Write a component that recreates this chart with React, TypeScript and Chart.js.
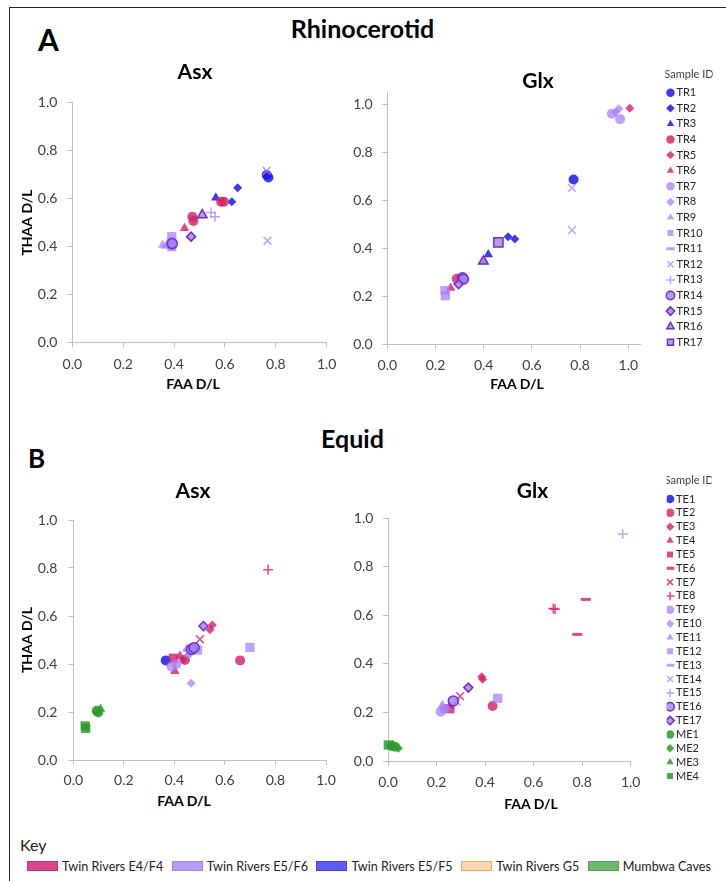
import React, { useEffect, useRef } from 'react';
import { Chart, registerables } from 'chart.js';

Chart.register(...registerables);

const FONT = 'Lato, "Open Sans", sans-serif';

// ---------------- Sample IDs ----------------
const rhinoIds = ['TR1', 'TR2', 'TR3', 'TR4', 'TR5', 'TR6', 'TR7', 'TR8', 'TR9', 'TR10', 'TR11', 'TR12', 'TR13', 'TR14', 'TR15', 'TR16', 'TR17'];
const equidIds = ['TE1', 'TE2', 'TE3', 'TE4', 'TE5', 'TE6', 'TE7', 'TE8', 'TE9', 'TE10', 'TE11', 'TE12', 'TE13', 'TE14', 'TE15', 'TE16', 'TE17', 'ME1', 'ME2', 'ME3', 'ME4'];

// ---------------- A: Rhinocerotid, Asx ----------------
const rhinoAsxSample = ['TR1', 'TR1', 'TR2', 'TR2', 'TR3', 'TR4', 'TR4', 'TR4', 'TR4', 'TR6', 'TR7', 'TR7', 'TR9', 'TR9', 'TR10', 'TR10', 'TR12', 'TR12', 'TR13', 'TR13', 'TR14', 'TR15', 'TR16'];
const rhinoAsxFAA = [0.764, 0.771, 0.650, 0.627, 0.564, 0.585, 0.596, 0.472, 0.476, 0.441, 0.388, 0.388, 0.355, 0.368, 0.391, 0.391, 0.764, 0.767, 0.545, 0.561, 0.393, 0.467, 0.511];
const rhinoAsxTHAA = [0.698, 0.688, 0.645, 0.587, 0.603, 0.587, 0.587, 0.524, 0.506, 0.476, 0.420, 0.405, 0.406, 0.402, 0.441, 0.399, 0.716, 0.424, 0.542, 0.524, 0.412, 0.441, 0.531];

// ---------------- A: Rhinocerotid, Glx ----------------
const rhinoGlxSample = ['TR1', 'TR2', 'TR2', 'TR3', 'TR4', 'TR5', 'TR6', 'TR7', 'TR7', 'TR8', 'TR8', 'TR9', 'TR10', 'TR10', 'TR12', 'TR12', 'TR14', 'TR14', 'TR15', 'TR16', 'TR17'];
const rhinoGlxFAA = [0.773, 0.501, 0.529, 0.419, 0.288, 1.006, 0.263, 0.932, 0.966, 0.961, 0.948, 0.396, 0.239, 0.241, 0.766, 0.766, 0.312, 0.316, 0.296, 0.399, 0.461];
const rhinoGlxTHAA = [0.686, 0.447, 0.438, 0.373, 0.272, 0.983, 0.234, 0.961, 0.938, 0.981, 0.968, 0.344, 0.223, 0.201, 0.651, 0.475, 0.276, 0.270, 0.250, 0.345, 0.424];

// ---------------- B: Equid, Asx ----------------
const equidAsxSample = ['TE1', 'TE2', 'TE2', 'TE3', 'TE3', 'TE3', 'TE4', 'TE4', 'TE5', 'TE7', 'TE8', 'TE9', 'TE9', 'TE10', 'TE10', 'TE11', 'TE12', 'TE12', 'TE14', 'TE16', 'TE16', 'TE17', 'ME1', 'ME1', 'ME2', 'ME3', 'ME4', 'ME4'];
const equidAsxFAA = [0.366, 0.660, 0.442, 0.550, 0.541, 0.435, 0.422, 0.402, 0.396, 0.501, 0.771, 0.389, 0.409, 0.466, 0.455, 0.449, 0.699, 0.492, 0.452, 0.468, 0.478, 0.515, 0.093, 0.099, 0.090, 0.108, 0.049, 0.047];
const equidAsxTHAA = [0.415, 0.415, 0.417, 0.563, 0.543, 0.420, 0.433, 0.370, 0.424, 0.503, 0.793, 0.389, 0.400, 0.320, 0.437, 0.462, 0.469, 0.458, 0.446, 0.461, 0.468, 0.558, 0.205, 0.198, 0.200, 0.212, 0.132, 0.142];

// ---------------- B: Equid, Glx ----------------
const equidGlxSample = ['TE2', 'TE3', 'TE3', 'TE4', 'TE5', 'TE6', 'TE6', 'TE7', 'TE8', 'TE8', 'TE9', 'TE9', 'TE10', 'TE11', 'TE12', 'TE14', 'TE15', 'TE16', 'TE17', 'ME1', 'ME1', 'ME2', 'ME3', 'ME4'];
const equidGlxFAA = [0.431, 0.386, 0.390, 0.255, 0.255, 0.815, 0.780, 0.297, 0.681, 0.688, 0.217, 0.232, 0.242, 0.224, 0.452, 0.283, 0.967, 0.269, 0.331, 0.015, 0.029, 0.043, 0.020, 0.001];
const equidGlxTHAA = [0.226, 0.347, 0.336, 0.226, 0.215, 0.665, 0.521, 0.267, 0.628, 0.624, 0.203, 0.215, 0.217, 0.229, 0.258, 0.244, 0.934, 0.247, 0.302, 0.062, 0.059, 0.052, 0.066, 0.066];

// ---------------- Key ----------------
const keyLabels = ['Twin Rivers E4/F4', 'Twin Rivers E5/F6', 'Twin Rivers E5/F5', 'Twin Rivers G5', 'Mumbwa Caves'];
const keyFill = ['#D9468A', '#B89CF6', '#5C5CF6', '#FDD6B2', '#6DBA6D'];
const keyBorder = ['#C2327A', '#A284EE', '#4444E6', '#EFA464', '#52A652'];

// ---------------- Marker styles ----------------
const sampleGroup: Record<string, string> = {
  TR1: 'F5', TR2: 'F5', TR3: 'F5', TR4: 'F4', TR5: 'F4', TR6: 'F4',
  TR7: 'F6', TR8: 'F6', TR9: 'F6', TR10: 'F6', TR11: 'F6', TR12: 'F6', TR13: 'F6',
  TR14: 'F6o', TR15: 'F6o', TR16: 'F6o', TR17: 'F6o',
  TE1: 'F5', TE2: 'F4', TE3: 'F4', TE4: 'F4', TE5: 'F4', TE6: 'F4', TE7: 'F4', TE8: 'F4',
  TE9: 'F6', TE10: 'F6', TE11: 'F6', TE12: 'F6', TE13: 'F6', TE14: 'F6', TE15: 'F6',
  TE16: 'F6o', TE17: 'F6o', ME1: 'MC', ME2: 'MC', ME3: 'MC', ME4: 'MC',
};
const sampleShape: Record<string, string> = {
  TR1: 'circle', TR2: 'rectRot', TR3: 'triangle', TR4: 'circle', TR5: 'rectRot', TR6: 'triangle',
  TR7: 'circle', TR8: 'rectRot', TR9: 'triangle', TR10: 'rect', TR11: 'line', TR12: 'crossRot', TR13: 'cross',
  TR14: 'circle', TR15: 'rectRot', TR16: 'triangle', TR17: 'rect',
  TE1: 'circle', TE2: 'circle', TE3: 'rectRot', TE4: 'triangle', TE5: 'rect', TE6: 'line', TE7: 'crossRot', TE8: 'cross',
  TE9: 'circle', TE10: 'rectRot', TE11: 'triangle', TE12: 'rect', TE13: 'line', TE14: 'crossRot', TE15: 'cross',
  TE16: 'circle', TE17: 'rectRot', ME1: 'circle', ME2: 'rectRot', ME3: 'triangle', ME4: 'rect',
};
const groupColor: Record<string, string> = {
  F5: 'rgba(25,25,235,0.85)',
  F4: 'rgba(212,30,102,0.8)',
  F6: 'rgba(165,125,250,0.72)',
  F6o: 'rgba(165,125,250,0.78)',
  MC: 'rgba(45,155,45,0.85)',
};
const outlineColor = 'rgb(112,48,200)';
const shapeRadius: Record<string, number> = { circle: 5, rectRot: 4.5, triangle: 5.5, rect: 6.5, line: 5, crossRot: 5.5, cross: 5 };

function buildDatasets(ids: string[], sample: string[], faa: number[], thaa: number[]) {
  return ids.map((id, i) => {
    const g = sampleGroup[id];
    const sh = sampleShape[id];
    const c = groupColor[g];
    const outline = g === 'F6o';
    const strokeOnly = sh === 'line' || sh === 'cross' || sh === 'crossRot';
    const bw = outline ? 1.5 : sh === 'line' ? 3 : strokeOnly ? 1.5 : 0;
    const data: { x: number; y: number }[] = [];
    sample.forEach((s, k) => {
      if (s === id) data.push({ x: faa[k], y: thaa[k] });
    });
    return {
      label: id,
      data,
      showLine: false,
      clip: false as any,
      order: ids.length - i,
      pointStyle: sh,
      pointRadius: shapeRadius[sh],
      pointHoverRadius: shapeRadius[sh],
      backgroundColor: c,
      pointBackgroundColor: c,
      borderColor: outline ? outlineColor : c,
      pointBorderColor: outline ? outlineColor : c,
      borderWidth: bw,
      pointBorderWidth: bw,
    };
  });
}

type PanelOpts = {
  ids: string[];
  sample: string[];
  faa: number[];
  thaa: number[];
  title: string;
  titlePad: [number, number];
  max: number;
  canvasLeft: number;
  canvasW: number;
  areaLeft: number;
  areaRight: number;
  xH: number;
  yTickPad: number;
  xTickPad: number;
  yTitlePad?: number;
  legend?: { s1: number; pad: number; titlePad: [number, number] };
};

function axisCommon(max: number, pad: number) {
  return {
    type: 'linear' as const,
    min: 0,
    max,
    ticks: {
      stepSize: 0.2,
      includeBounds: false,
      padding: pad,
      color: '#404040',
      font: { family: FONT, size: 14 },
      maxRotation: 0,
      autoSkip: false,
      callback: (v: any) => Number(v).toFixed(1),
    },
    grid: { display: true, drawOnChartArea: false, drawTicks: true, tickLength: 5, color: '#BFBFBF', lineWidth: 1 },
    border: { display: true, color: '#BFBFBF', width: 1 },
  };
}

function makeConfig(o: PanelOpts): any {
  const yW = o.areaLeft - o.canvasLeft;
  const areaRightRel = o.areaRight - o.canvasLeft;
  const scales: any = {
    x: { ...axisCommon(o.max, o.xTickPad), position: 'bottom', afterFit: (s: any) => { s.height = o.xH; } },
    y: {
      ...axisCommon(o.max, o.yTickPad),
      position: 'left',
      afterFit: (s: any) => { s.width = yW; },
      title: o.yTitlePad !== undefined
        ? { display: true, text: 'THAA D/L', color: '#000', font: { family: FONT, size: 14, weight: 'bold' }, padding: { top: o.yTitlePad, bottom: 0 } }
        : { display: false },
    },
  };
  if (o.legend) {
    const lg = o.legend;
    scales.spR1 = { type: 'linear', position: 'right', display: false, weight: 0, afterFit: (s: any) => { s.width = lg.s1; } };
    scales.spR2 = {
      type: 'linear', position: 'right', display: false, weight: 3000,
      afterFit: (s: any) => {
        const lw = s.chart.legend ? s.chart.legend.width : 0;
        s.width = Math.max(0, o.canvasW - areaRightRel - lg.s1 - lw);
      },
    };
  } else {
    scales.spR1 = { type: 'linear', position: 'right', display: false, afterFit: (s: any) => { s.width = o.canvasW - areaRightRel; } };
  }
  return {
    type: 'scatter',
    data: { datasets: buildDatasets(o.ids, o.sample, o.faa, o.thaa) },
    options: {
      responsive: false,
      maintainAspectRatio: false,
      devicePixelRatio: 1,
      animation: false,
      events: [],
      layout: { padding: 0 },
      scales,
      plugins: {
        tooltip: { enabled: false },
        title: {
          display: true,
          text: o.title,
          color: '#000',
          font: { family: FONT, size: 21, weight: 'bold', lineHeight: 1 },
          padding: { top: o.titlePad[0], bottom: o.titlePad[1] },
        },
        legend: o.legend
          ? {
              display: true,
              position: 'right',
              align: 'start',
              fullSize: true,
              title: {
                display: true,
                text: 'Sample ID',
                color: '#404040',
                font: { family: FONT, size: 11 },
                padding: { top: o.legend.titlePad[0], bottom: o.legend.titlePad[1] },
              },
              labels: {
                usePointStyle: true,
                boxWidth: 1,
                boxHeight: 6,
                padding: o.legend.pad,
                color: '#262626',
                font: { family: FONT, size: 11 },
                sort: (a: any, b: any) => a.datasetIndex - b.datasetIndex,
              },
            }
          : { display: false },
      },
    },
  };
}

function ChartCanvas(props: { left: number; top: number; width: number; height: number; opts: PanelOpts }) {
  const ref = useRef<HTMLCanvasElement>(null);
  useEffect(() => {
    if (!ref.current) return;
    const chart = new Chart(ref.current, makeConfig(props.opts));
    return () => chart.destroy();
  }, []);
  return (
    <canvas
      ref={ref}
      width={props.width}
      height={props.height}
      style={{ position: 'absolute', left: props.left, top: props.top, width: props.width, height: props.height }}
    />
  );
}

function Txt(p: { x: number; cy: number; size: number; bold?: boolean; center?: boolean; children: React.ReactNode; color?: string }) {
  return (
    <div
      style={{
        position: 'absolute',
        left: p.x,
        top: p.cy - p.size / 2,
        fontFamily: FONT,
        fontSize: p.size,
        lineHeight: `${p.size}px`,
        fontWeight: p.bold ? 700 : 400,
        whiteSpace: 'nowrap',
        color: p.color || '#000',
        transform: p.center ? 'translateX(-50%)' : undefined,
      }}
    >
      {p.children}
    </div>
  );
}

export default function App() {
  return (
    <div style={{ position: 'absolute', left: 0, top: 0, width: 726, height: 881, overflow: 'hidden', background: '#fff' }}>
      <div style={{ position: 'absolute', left: 9, top: 7, width: 760, height: 920, borderLeft: '1.5px solid #222', borderTop: '1.5px solid #222' }} />

      <Txt x={38} cy={39} size={30} bold>A</Txt>
      <Txt x={362.5} cy={28.5} size={25} bold center>Rhinocerotid</Txt>
      <Txt x={28} cy={457.5} size={26} bold>B</Txt>
      <Txt x={352.5} cy={438.5} size={25} bold center>Equid</Txt>

      <ChartCanvas
        left={10} top={50} width={370} height={323}
        opts={{
          ids: rhinoIds, sample: rhinoAsxSample, faa: rhinoAsxFAA, thaa: rhinoAsxTHAA,
          title: 'Asx', titlePad: [11.5, 20.2], max: 1,
          canvasLeft: 10, canvasW: 370, areaLeft: 72.3, areaRight: 326.7, xH: 30.7,
          yTickPad: 10, xTickPad: 8.3, yTitlePad: 9.1,
        }}
      />
      <ChartCanvas
        left={350} top={50} width={376} height={324}
        opts={{
          ids: rhinoIds, sample: rhinoGlxSample, faa: rhinoGlxFAA, thaa: rhinoGlxTHAA,
          title: 'Glx', titlePad: [20.5, 0.8], max: 1.05,
          canvasLeft: 350, canvasW: 376, areaLeft: 387.3, areaRight: 640.35, xH: 30,
          yTickPad: 9.6, xTickPad: 7.6,
          legend: { s1: 25, pad: 4.6, titlePad: [18.5, 0.9] },
        }}
      />
      <ChartCanvas
        left={10} top={460} width={366} height={330}
        opts={{
          ids: equidIds, sample: equidAsxSample, faa: equidAsxFAA, thaa: equidAsxTHAA,
          title: 'Asx', titlePad: [21.2, 17.8], max: 1,
          canvasLeft: 10, canvasW: 366, areaLeft: 73.3, areaRight: 326, xH: 30,
          yTickPad: 11, xTickPad: 6.6, yTitlePad: 8.6,
        }}
      />
      <ChartCanvas
        left={339} top={460} width={387} height={340}
        opts={{
          ids: equidIds, sample: equidGlxSample, faa: equidGlxFAA, thaa: equidGlxTHAA,
          title: 'Glx', titlePad: [20.5, 16.5], max: 1,
          canvasLeft: 339, canvasW: 387, areaLeft: 388, areaRight: 630.7, xH: 39,
          yTickPad: 9.7, xTickPad: 7.9,
          legend: { s1: 36, pad: 2.85, titlePad: [14.5, 2.95] },
        }}
      />

      <Txt x={193} cy={384} size={14} bold center>FAA D/L</Txt>
      <Txt x={517} cy={384} size={14} bold center>FAA D/L</Txt>
      <Txt x={184} cy={801} size={14} bold center>FAA D/L</Txt>
      <Txt x={531} cy={804} size={14} bold center>FAA D/L</Txt>

      <Txt x={20} cy={845} size={16} color="#222">Key</Txt>
      <div style={{ position: 'absolute', left: 27, top: 858, height: 16, display: 'flex', alignItems: 'center', gap: 8.5, fontFamily: FONT, fontSize: 12.6, color: '#222', whiteSpace: 'nowrap' }}>
        {keyLabels.map((lab, i) => (
          <div key={lab} style={{ display: 'flex', alignItems: 'center' }}>
            <div style={{ width: 29, height: 8, background: keyFill[i], border: `1px solid ${keyBorder[i]}`, marginRight: 4 }} />
            <span>{lab}</span>
          </div>
        ))}
      </div>
    </div>
  );
}
